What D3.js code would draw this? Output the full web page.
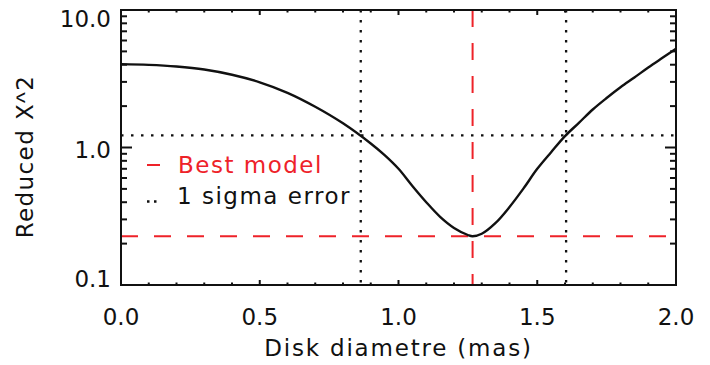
<!DOCTYPE html>
<html>
<head>
<meta charset="utf-8">
<script src="https://cdn.jsdelivr.net/npm/d3@7"></script>
<style>
	body { margin: 0; background: #fff; }
	svg { display: block; }
	text { font-family: "DejaVu Sans", sans-serif; fill: #111; }
</style>
</head>
<body>
<div id="chart"></div>
<script>
// chi2 curve
var diameters = [0.00, 0.10, 0.20, 0.30, 0.40, 0.50, 0.60, 0.70, 0.80, 0.90, 0.95, 1.00, 1.05, 1.10, 1.15, 1.20, 1.25, 1.267, 1.30, 1.35, 1.40, 1.45, 1.50, 1.55, 1.60, 1.65, 1.70, 1.75, 1.80, 1.85, 1.90, 1.95, 2.00];
var chi2 = [4.04, 3.99, 3.88, 3.69, 3.38, 2.98, 2.50, 1.98, 1.50, 1.07, 0.88, 0.70, 0.525, 0.40, 0.313, 0.26, 0.231, 0.226, 0.236, 0.283, 0.369, 0.502, 0.70, 0.925, 1.21, 1.51, 1.89, 2.29, 2.74, 3.23, 3.82, 4.47, 5.22];

var best_model = { diameter : 1.267, chi2 : 0.226 };
var sigma_diameters = [0.864, 1.604];
var sigma_chi2 = 1.226;

var x_tick_labels = ["0.0", "0.5", "1.0", "1.5", "2.0"];
var y_tick_labels = ["0.1", "1.0", "10.0"];
var legend_labels = ["Best model", "1 sigma error"];

var width = 710, height = 365;
var padding = { top : 10, bottom : 80, left : 121, right : 34 };
var red = "#ee2229";
var ink = "#111";

var svg = d3.select("#chart").append("svg")
	.attr("width", width)
	.attr("height", height);

var scaleX = d3.scaleLinear().domain([0, 2]).range([padding.left, width - padding.right]);
var scaleY = d3.scaleLog().domain([0.1, 10]).range([height - padding.bottom, padding.top]);

var x0 = scaleX.range()[0], x1 = scaleX.range()[1];
var y0 = scaleY.range()[0], y1 = scaleY.range()[1];

// reference lines
var refs = svg.append("g");
sigma_diameters.forEach(function(d){
	refs.append("line")
		.attr("x1", scaleX(d)).attr("x2", scaleX(d))
		.attr("y1", y1).attr("y2", y0)
		.style("stroke", ink).style("stroke-width", 2.3)
		.style("stroke-dasharray", "2.5,7.5");
});
refs.append("line")
	.attr("x1", x0).attr("x2", x1)
	.attr("y1", scaleY(sigma_chi2)).attr("y2", scaleY(sigma_chi2))
	.style("stroke", ink).style("stroke-width", 2.3)
	.style("stroke-dasharray", "2.5,7.5");

refs.append("line")
	.attr("x1", scaleX(best_model.diameter)).attr("x2", scaleX(best_model.diameter))
	.attr("y1", y1).attr("y2", y0)
	.style("stroke", red).style("stroke-width", 2)
	.style("stroke-dasharray", "17,16");
refs.append("line")
	.attr("x1", x0).attr("x2", x1)
	.attr("y1", scaleY(best_model.chi2)).attr("y2", scaleY(best_model.chi2))
	.style("stroke", red).style("stroke-width", 2)
	.style("stroke-dasharray", "17,16");

// curve
var line = d3.line()
	.x(function(d, i){ return scaleX(diameters[i]); })
	.y(function(d){ return scaleY(d); })
	.curve(d3.curveCatmullRom.alpha(0.5));

svg.append("path")
	.datum(chi2)
	.attr("d", line)
	.style("fill", "none")
	.style("stroke", ink)
	.style("stroke-width", 2.4);

// axes box and ticks
var axes = svg.append("g");
axes.append("rect")
	.attr("x", x0).attr("y", y1)
	.attr("width", x1 - x0).attr("height", y0 - y1)
	.style("fill", "none").style("stroke", ink).style("stroke-width", 2);

var x_minor = scaleX.ticks(20);
var x_major = scaleX.ticks(4);
x_minor.forEach(function(t){
	var major = x_major.some(function(m){ return Math.abs(m - t) < 1e-9; });
	var len = major ? 5 : 2.5;
	axes.append("line")
		.attr("x1", scaleX(t)).attr("x2", scaleX(t))
		.attr("y1", y0).attr("y2", y0 - len)
		.style("stroke", ink).style("stroke-width", 2);
	axes.append("line")
		.attr("x1", scaleX(t)).attr("x2", scaleX(t))
		.attr("y1", y1).attr("y2", y1 + len)
		.style("stroke", ink).style("stroke-width", 2);
});

scaleY.ticks().forEach(function(t){
	var major = Math.abs(Math.log10(t) - Math.round(Math.log10(t))) < 1e-9;
	var len = major ? 11 : 6;
	axes.append("line")
		.attr("x1", x0).attr("x2", x0 + len)
		.attr("y1", scaleY(t)).attr("y2", scaleY(t))
		.style("stroke", ink).style("stroke-width", 2);
	axes.append("line")
		.attr("x1", x1).attr("x2", x1 - len)
		.attr("y1", scaleY(t)).attr("y2", scaleY(t))
		.style("stroke", ink).style("stroke-width", 2);
});

// tick labels
axes.selectAll(".xlabel").data(x_tick_labels).enter()
	.append("text")
	.attr("class", "xlabel")
	.attr("x", function(d){ return scaleX(+d); })
	.attr("y", y0 + 40)
	.style("text-anchor", "middle")
	.style("font-size", "23px")
	.text(function(d){ return d; });

axes.selectAll(".ylabel").data(y_tick_labels).enter()
	.append("text")
	.attr("class", "ylabel")
	.attr("x", x0 - 10)
	.attr("y", function(d){
		var b = scaleY(+d) + 10;
		return Math.max(y1 + 17, Math.min(y0 + 2, b));
	})
	.style("text-anchor", "end")
	.style("font-size", "23px")
	.text(function(d){ return d; });

// axis titles
svg.append("text")
	.attr("x", (x0 + x1) / 2)
	.attr("y", 356)
	.style("text-anchor", "middle")
	.style("font-size", "23px")
	.style("letter-spacing", "1.8px")
	.text("Disk diametre (mas)");

var ytitle = svg.append("text")
	.attr("transform", "translate(33," + ((y0 + y1) / 2 + 9) + ") rotate(-90)")
	.style("text-anchor", "middle")
	.style("font-size", "23px")
	.style("letter-spacing", "1.4px");
ytitle.append("tspan").text("Reduced X");
ytitle.append("tspan").style("font-family", "Liberation Sans").text("^");
ytitle.append("tspan").text("2");

// legend
var legend = svg.append("g");
legend.append("line")
	.attr("x1", 147).attr("x2", 160)
	.attr("y1", 165).attr("y2", 165)
	.style("stroke", red).style("stroke-width", 2);
legend.append("text")
	.attr("x", 178).attr("y", 173)
	.style("font-size", "23px")
	.style("letter-spacing", "1.5px")
	.style("fill", red)
	.text(legend_labels[0]);

legend.append("line")
	.attr("x1", 147).attr("x2", 158)
	.attr("y1", 201.5).attr("y2", 201.5)
	.style("stroke", ink).style("stroke-width", 2.3)
	.style("stroke-dasharray", "2.5,4.5");
legend.append("text")
	.attr("x", 177).attr("y", 204)
	.style("font-size", "23px")
	.style("letter-spacing", "1.5px")
	.text(legend_labels[1]);
</script>
</body>
</html>
